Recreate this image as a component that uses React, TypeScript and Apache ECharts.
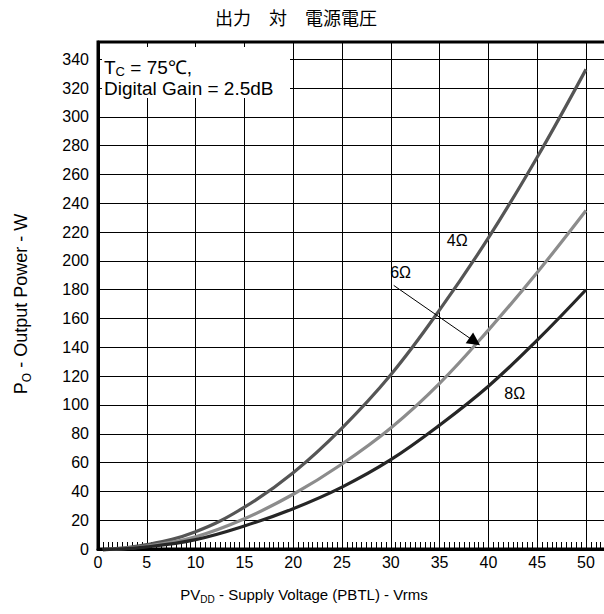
import React, { useEffect, useRef } from "react";
import * as echarts from "echarts";

// Supply voltage (Vrms) sample points
const voltage = [0.5, 5, 10, 15, 20, 25, 30, 35, 40, 45, 50];
// Output power (W) per load impedance
const power4 = [-0.5, 3, 12, 29, 53, 84, 121, 166, 216, 272, 333];
const power6 = [-0.5, 2, 8.5, 21, 38, 59, 84, 115, 152, 192, 235];
const power8 = [-0.5, 1.5, 6.5, 16, 28, 43, 62, 86, 113, 145, 180];

const loadNames = ["4Ω", "6Ω", "8Ω"];
// label anchor points in data coordinates [V, W]
const label4 = [36.8, 214];
const label6 = [31.0, 192];
const label8 = [42.7, 108];
// 6Ω pointer arrow: from the label to the curve
const arrowFrom = [30.3, 183];
const arrowTo = [38.6, 144];

const titleText = "出力　対　電源電圧";
const xName = "{m|PV}{s|DD}{m| - Supply Voltage (PBTL) - Vrms}";
const yName = "{m|P}{s|O}{m| - Output Power - W}";
const conditions = "{m|T}{s|C}{m| = 75℃,}\n{m|Digital Gain = 2.5dB}";

const FONT = "'Liberation Sans', Arial, Helvetica, sans-serif";

const pairs = (ys: number[]) => voltage.map((v, i) => [v, ys[i]]);

const subRich = (size: number, gap = 5) => ({
  m: { fontSize: size, fontFamily: FONT, fill: "#000", color: "#000", lineHeight: size + gap, verticalAlign: "middle" },
  s: { fontSize: Math.round(size * 0.68), fontFamily: FONT, fill: "#000", color: "#000", lineHeight: Math.round(size * 0.68), verticalAlign: "bottom" },
});

const markLabel = (name: string, coord: number[]) => ({
  symbol: "circle",
  symbolSize: 1,
  silent: true,
  itemStyle: { color: "rgba(0,0,0,0)" },
  label: { show: true, position: "inside", formatter: "{b}", color: "#000", fontSize: 16, fontFamily: FONT },
  data: [{ name, coord }],
});

export default function App() {
  const ref = useRef<HTMLDivElement>(null);

  useEffect(() => {
    document.body.style.margin = "0";
    document.body.style.overflow = "hidden";
    if (!ref.current) return;
    const chart = echarts.init(ref.current, undefined, { renderer: "svg" });
    const xMax = 52.46;
    const lineSeries = (name: string, ys: number[], color: string, extra: any) => ({
      type: "line",
      name,
      data: pairs(ys),
      smooth: 0.4,
      showSymbol: false,
      clip: false,
      lineStyle: { color, width: 3.2 },
      itemStyle: { color },
      z: 3,
      ...extra,
    });

    chart.setOption({
      animation: false,
      backgroundColor: "#fff",
      textStyle: { fontFamily: FONT },
      grid: {
        left: 98,
        top: 42,
        right: 0,
        bottom: 65,
        show: true,
        borderColor: "#000",
        borderWidth: 3,
        backgroundColor: "transparent",
      },
      xAxis: [
        {
          type: "value",
          min: 0,
          max: xMax,
          interval: 5,
          axisLine: { show: true, lineStyle: { color: "#000", width: 3 } },
          axisTick: { show: false },
          axisLabel: { color: "#000", fontSize: 16, fontFamily: FONT, margin: 5, showMaxLabel: false },
          splitLine: { show: true, lineStyle: { color: "#000", width: 1 } },
        },
        {
          type: "value",
          min: 0,
          max: xMax,
          interval: 0.5,
          position: "bottom",
          axisLine: { show: false },
          axisTick: { show: true, inside: true, length: 7, lineStyle: { color: "#000", width: 1 } },
          axisLabel: { show: false },
          splitLine: { show: false },
        },
      ],
      yAxis: {
        type: "value",
        min: 0,
        max: 352,
        interval: 20,
        axisLine: { show: true, lineStyle: { color: "#000", width: 3 } },
        axisTick: { show: false },
        axisLabel: { color: "#000", fontSize: 16, fontFamily: FONT, margin: 9, showMaxLabel: false },
        splitLine: { show: true, lineStyle: { color: "#000", width: 1 } },
      },
      series: [
        lineSeries(loadNames[0], power4, "#555555", { markPoint: markLabel(loadNames[0], label4) }),
        lineSeries(loadNames[1], power6, "#8c8c8c", {
          markPoint: markLabel(loadNames[1], label6),
          markLine: {
            silent: true,
            symbol: ["none", "triangle"],
            symbolSize: 13,
            label: { show: false },
            lineStyle: { color: "#000", width: 1, type: "solid" },
            itemStyle: { color: "#000" },
            data: [[{ coord: arrowFrom }, { coord: arrowTo }]],
          },
        }),
        lineSeries(loadNames[2], power8, "#262626", { markPoint: markLabel(loadNames[2], label8) }),
      ],
      graphic: [
        {
          type: "text",
          x: 296,
          y: 17,
          z: 10,
          style: {
            text: titleText,
            fill: "#000",
            font: "18px 'Noto Sans CJK JP', sans-serif",
            align: "center",
            verticalAlign: "middle",
          },
        },
        {
          type: "text",
          x: 304,
          y: 594,
          z: 10,
          style: { text: xName, rich: subRich(15), align: "center", verticalAlign: "middle" },
        },
        {
          type: "text",
          x: 21,
          y: 304,
          rotation: Math.PI / 2,
          z: 10,
          style: { text: yName, rich: subRich(18), align: "center", verticalAlign: "middle" },
        },
        {
          type: "rect",
          z: 10,
          shape: { x: 102, y: 47, width: 188, height: 51 },
          style: { fill: "#fff" },
        },
        {
          type: "text",
          x: 104,
          y: 57,
          z: 11,
          style: { text: conditions, rich: subRich(19, 2), align: "left", verticalAlign: "top" },
        },
      ],
    });
    return () => chart.dispose();
  }, []);

  return <div ref={ref} style={{ width: 610, height: 614 }} />;
}
